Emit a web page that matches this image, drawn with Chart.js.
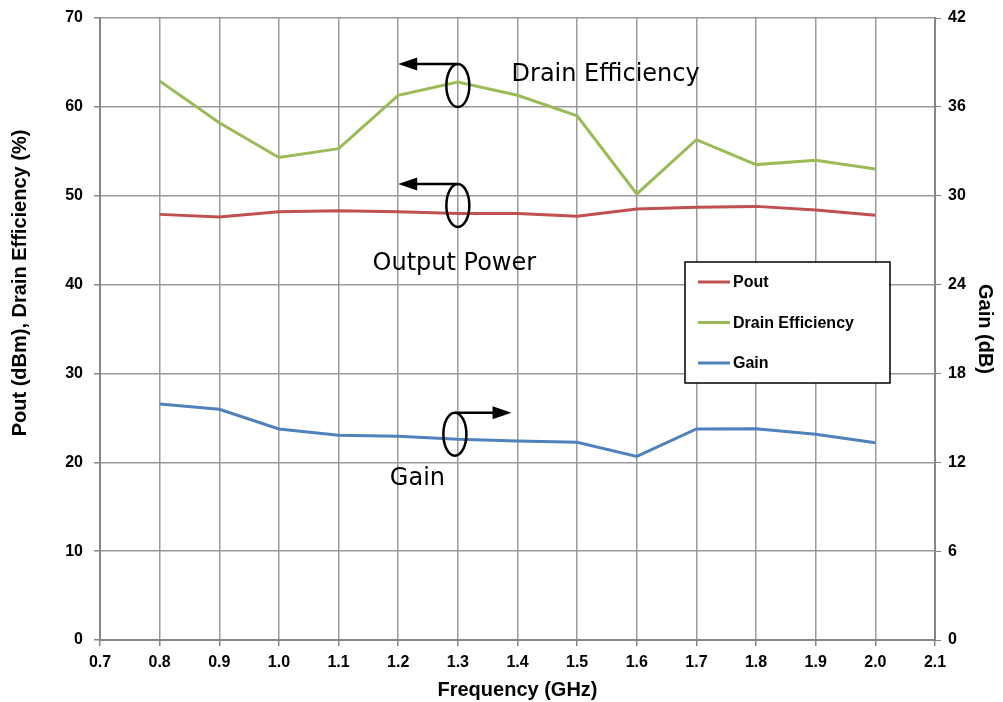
<!DOCTYPE html>
<html>
<head>
<meta charset="utf-8">
<script src="https://cdn.jsdelivr.net/npm/chart.js@4.4.1/dist/chart.umd.min.js"></script>
<style>
  html, body { margin: 0; padding: 0; background: #fff; }
  #wrap { width: 1003px; height: 702px; }
</style>
</head>
<body>
<div id="wrap"><canvas id="ampChart" width="1003" height="702"></canvas></div>
<script>
// frequency points (GHz)
var freq = [0.8, 0.9, 1.0, 1.1, 1.2, 1.3, 1.4, 1.5, 1.6, 1.7, 1.8, 1.9, 2.0];

// series
var pout = [47.9, 47.6, 48.2, 48.3, 48.2, 48.0, 48.0, 47.7, 48.5, 48.7, 48.8, 48.4, 47.8];
var drainEff = [62.9, 58.2, 54.3, 55.3, 61.3, 62.8, 61.3, 59.0, 50.2, 56.3, 53.5, 54.0, 53.0];
var gain = [15.93, 15.58, 14.25, 13.82, 13.75, 13.55, 13.44, 13.35, 12.4, 14.25, 14.27, 13.89, 13.32];

// axis ranges [min, max, step]
var xTicks = [0.7, 2.1, 0.1];
var leftTicks = [0, 70, 10];
var rightTicks = [0, 42, 6];

var seriesNames = ['Pout', 'Drain Efficiency', 'Gain'];
var seriesColors = ['#C0504D', '#9BBB59', '#4F81BD'];

// annotation labels, in data units
var notes = [
    { text: 'Drain Efficiency', x: 1.39, y: 63.6, axis: 'y' },
    { text: 'Output Power', x: 1.157, y: 42.3, axis: 'y' },
    { text: 'Gain', x: 1.186, y: 18.1, axis: 'y' }
];
// ellipse + arrow markers: centre at (x, y), arrow runs to xTo
var markers = [
    { x: 1.3, y: 62.4, axis: 'y', xTo: 1.2 },
    { x: 1.3, y: 48.9, axis: 'y', xTo: 1.2 },
    { x: 1.295, y: 13.9, axis: 'y1', xTo: 1.39 }
];

function toPoints(vals) {
    return freq.map(function (f, i) { return { x: f, y: vals[i] }; });
}

var gridGrey = '#9a9a9a';
var tickFont = { family: 'Liberation Sans, Arial', size: 16, weight: 'bold' };
var titleFont = { family: 'Liberation Sans, Arial', size: 20, weight: 'bold' };

var notesPlugin = {
    id: 'notes',
    afterDatasetsDraw: function (chart) {
        var c = chart.ctx, sx = chart.scales.x;
        c.save();
        c.strokeStyle = '#000';
        c.fillStyle = '#000';
        c.lineWidth = 2.5;
        markers.forEach(function (m) {
            var sy = chart.scales[m.axis];
            var cx = sx.getPixelForValue(m.x), cy = sy.getPixelForValue(m.y);
            var rx = 11.5, ry = 21.5;
            c.beginPath();
            c.ellipse(cx, cy, rx, ry, 0, 0, Math.PI * 2);
            c.stroke();
            var x2 = sx.getPixelForValue(m.xTo);
            var top = cy - ry;
            var dir = x2 < cx ? -1 : 1;
            c.beginPath();
            c.moveTo(cx, top);
            c.lineTo(x2 - dir * 14, top);
            c.stroke();
            c.beginPath();
            c.moveTo(x2, top);
            c.lineTo(x2 - dir * 19, top - 6.5);
            c.lineTo(x2 - dir * 19, top + 6.5);
            c.closePath();
            c.fill();
        });
        c.font = '24px "DejaVu Sans"';
        c.textBaseline = 'middle';
        c.textAlign = 'left';
        notes.forEach(function (n) {
            var sy = chart.scales[n.axis];
            c.fillText(n.text, sx.getPixelForValue(n.x), sy.getPixelForValue(n.y));
        });
        c.restore();
    }
};

// legend box drawn inside plot area, plus the left axis title
var boxLegend = {
    id: 'boxLegend',
    afterDraw: function (chart) {
        var c = chart.ctx, a = chart.chartArea;
        var left = a.left + 585, top = a.top + 244, w = 205, h = 121;
        c.save();
        c.fillStyle = '#fff';
        c.fillRect(left, top, w, h);
        c.strokeStyle = '#000';
        c.lineWidth = 1.5;
        c.strokeRect(left, top, w, h);
        c.font = 'bold 16px "Liberation Sans", Arial';
        c.textBaseline = 'middle';
        chart.data.datasets.forEach(function (ds, i) {
            var y = top + 20 + i * 40.5;
            c.strokeStyle = ds.borderColor;
            c.lineWidth = 3;
            c.beginPath();
            c.moveTo(left + 13, y);
            c.lineTo(left + 45, y);
            c.stroke();
            c.fillStyle = '#000';
            c.fillText(ds.label, left + 48, y + 1);
        });

        c.translate(20, a.top + 265);
        c.rotate(-Math.PI / 2);
        c.font = 'bold 20px "Liberation Sans", Arial';
        c.textAlign = 'center';
        c.fillStyle = '#000';
        c.fillText('Pout (dBm), Drain Efficiency (%)', 0, 0);
        c.restore();
    }
};

// stop Chart.js from adding label overflow padding around the plot
function noPad(s) {
    s.paddingTop = 0;
    s.paddingBottom = 0;
    s.paddingLeft = 0;
    s.paddingRight = 0;
}

var ctx = document.getElementById('ampChart').getContext('2d');

var chart = new Chart(ctx, {
    type: 'line',
    data: {
        datasets: [
            { label: seriesNames[0], data: toPoints(pout), yAxisID: 'y', borderColor: seriesColors[0] },
            { label: seriesNames[1], data: toPoints(drainEff), yAxisID: 'y', borderColor: seriesColors[1] },
            { label: seriesNames[2], data: toPoints(gain), yAxisID: 'y1', borderColor: seriesColors[2] }
        ]
    },
    options: {
        responsive: false,
        animation: false,
        devicePixelRatio: 1,
        layout: { autoPadding: false, padding: { top: 18, left: 0, right: 0, bottom: 0 } },
        elements: {
            line: { borderWidth: 3, tension: 0, fill: false },
            point: { radius: 0 }
        },
        plugins: {
            legend: { display: false },
            tooltip: { enabled: false }
        },
        scales: {
            x: {
                type: 'linear',
                min: xTicks[0],
                max: xTicks[1],
                ticks: {
                    stepSize: xTicks[2],
                    color: '#000',
                    font: tickFont,
                    padding: 7,
                    maxRotation: 0,
                    callback: function (v) { return v.toFixed(1); }
                },
                grid: { color: gridGrey, lineWidth: 1.5, tickLength: 6, tickColor: '#868686' },
                border: { color: '#868686', width: 2 },
                title: { display: true, text: 'Frequency (GHz)', color: '#000', font: titleFont, padding: { top: 4, bottom: 0 } },
                afterFit: function (s) { s.height = 62; noPad(s); }
            },
            y: {
                position: 'left',
                min: leftTicks[0],
                max: leftTicks[1],
                ticks: { stepSize: leftTicks[2], color: '#000', font: tickFont, padding: 11 },
                grid: { color: gridGrey, lineWidth: 1.5, tickLength: 6, tickColor: '#868686' },
                border: { color: '#868686', width: 2 },
                afterFit: function (s) { s.width = 100; noPad(s); }
            },
            y1: {
                position: 'right',
                min: rightTicks[0],
                max: rightTicks[1],
                ticks: { stepSize: rightTicks[2], color: '#000', font: tickFont, padding: 7 },
                grid: { drawOnChartArea: false, tickLength: 6, tickColor: '#868686' },
                border: { color: '#868686', width: 2 },
                title: { display: true, text: 'Gain (dB)', color: '#000', font: titleFont, padding: { top: 6, bottom: 0 } },
                afterFit: function (s) { s.width = 68; noPad(s); }
            }
        }
    },
    plugins: [notesPlugin, boxLegend]
});
</script>
</body>
</html>
